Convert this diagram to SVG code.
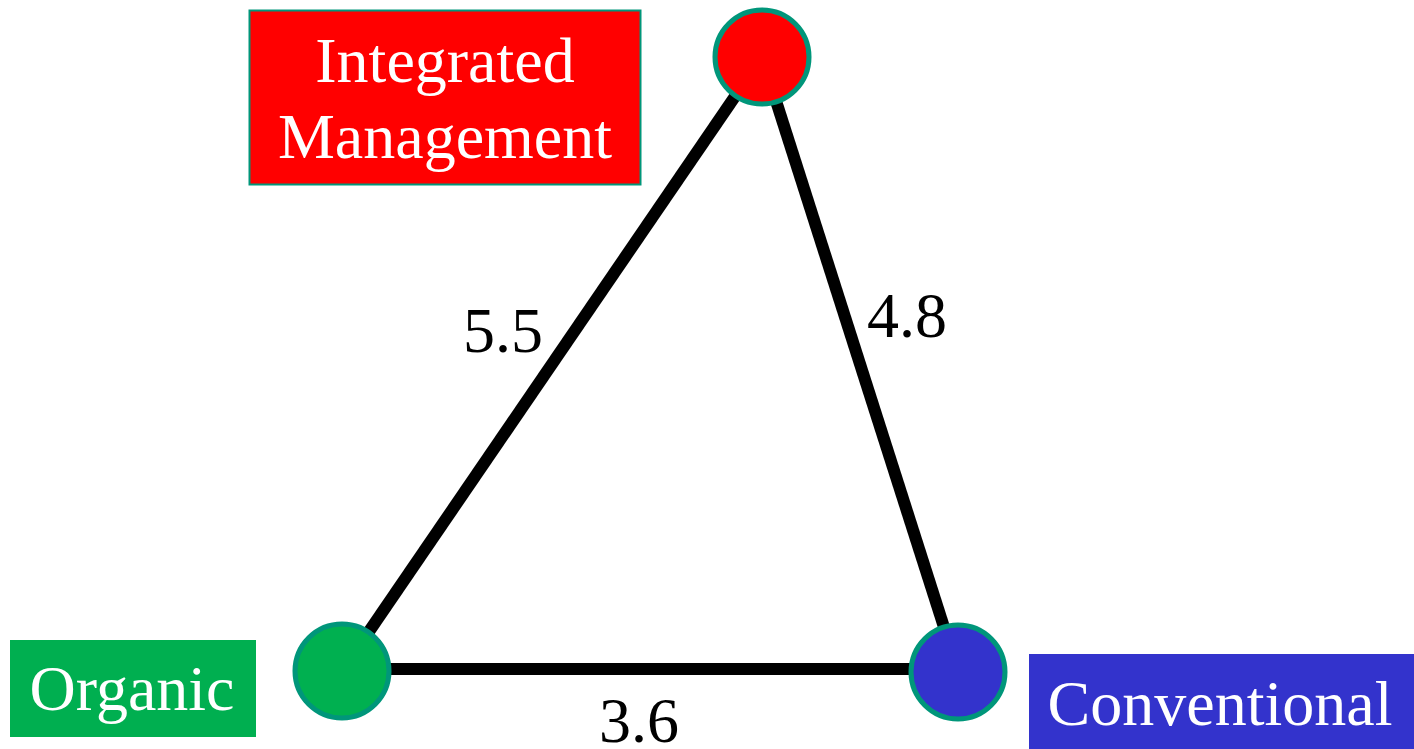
<svg xmlns="http://www.w3.org/2000/svg" width="1414" height="749" viewBox="0 0 1414 749">
<style>
.lbl{font-family:"Liberation Serif","Times New Roman",serif;fill:#fff;text-anchor:middle;font-size:64px}
.num{font-family:"Liberation Serif","Times New Roman",serif;fill:#000;text-anchor:middle;font-size:64px}
.edge{stroke:#000;stroke-width:12;fill:none}
.node{stroke:#00967A;stroke-width:5}
</style>
<rect width="1414" height="749" fill="#fff"/>
<g id="connectors">
<line class="edge" x1="342" y1="671" x2="762" y2="57"/>
<line class="edge" x1="762" y1="57" x2="958" y2="671"/>
<line class="edge" x1="342" y1="669" x2="958" y2="669"/>
<text class="num" x="503" y="352">5.5</text>
<text class="num" x="907" y="337">4.8</text>
<text class="num" x="639" y="742">3.6</text>
</g>
<g id="integrated">
<circle class="node" cx="762" cy="57" r="47" fill="#FF0000"/>
<rect x="249.5" y="10.5" width="391" height="174" fill="#FF0000" stroke="#00967A" stroke-width="2"/>
<text class="lbl" x="445" y="82">Integrated</text>
<text class="lbl" x="445" y="158">Management</text>
</g>
<g id="organic">
<circle class="node" cx="342" cy="671" r="47" fill="#00B050"/>
<rect x="10" y="640" width="246" height="97" fill="#00AF50"/>
<text class="lbl" x="132" y="710">Organic</text>
</g>
<g id="conventional">
<circle class="node" cx="958" cy="672" r="47" fill="#3333CC"/>
<rect x="1029" y="654" width="385" height="95" fill="#3333CC"/>
<text class="lbl" x="1220" y="725">Conventional</text>
</g>
</svg>
